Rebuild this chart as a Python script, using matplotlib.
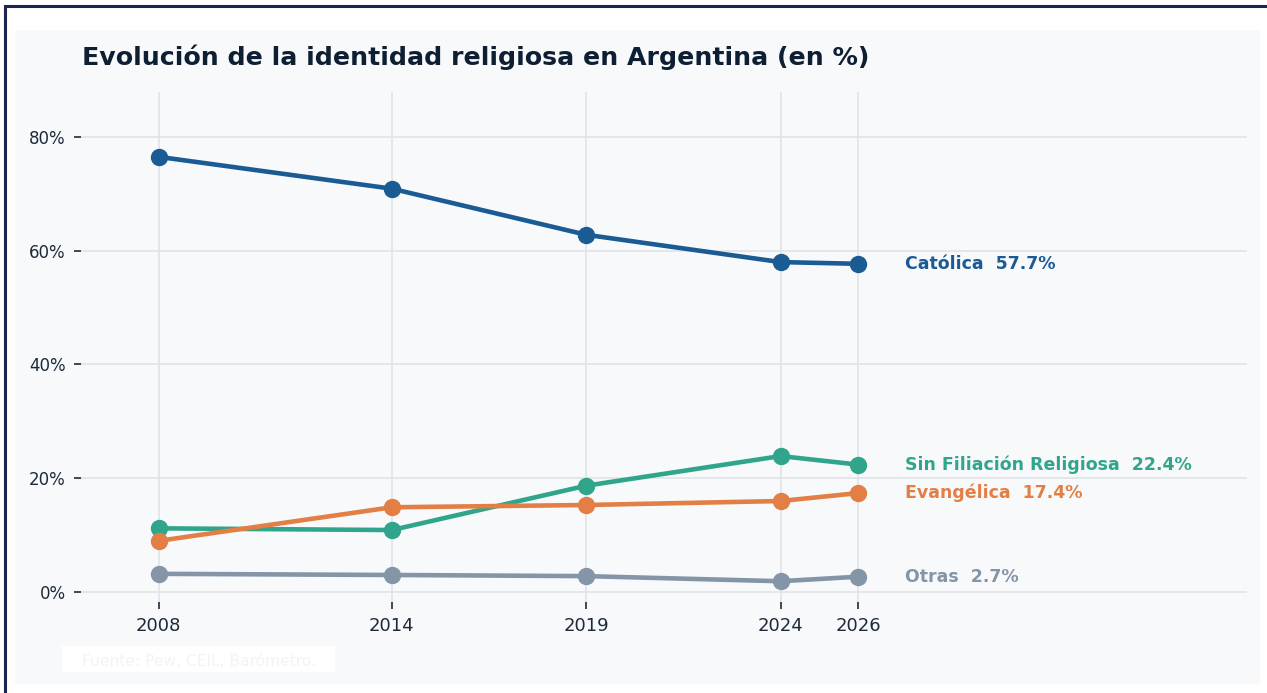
import matplotlib.pyplot as plt
from matplotlib.patches import Rectangle

# datos
years = [2008, 2014, 2019, 2024, 2026]
catolica = [76.5, 70.9, 62.8, 58.0, 57.7]
sin_filiacion = [11.2, 10.9, 18.7, 23.9, 22.4]
evangelica = [9.0, 14.9, 15.3, 16.0, 17.4]
otras = [3.2, 3.0, 2.8, 1.9, 2.7]

series = [
    ("Católica", catolica, "#1b5b94"),
    ("Sin Filiación Religiosa", sin_filiacion, "#31a58c"),
    ("Evangélica", evangelica, "#e37f44"),
    ("Otras", otras, "#8495a8"),
]

PANEL = "#f7f9fb"
GRID = "#dfe4e9"
TXT = "#1e2a3a"
W, H = 1267, 693

fig = plt.figure(figsize=(12.67, 6.93), dpi=100, facecolor="white")

# marco y panel de fondo
fig.patches.append(Rectangle((15 / W, 9 / H), 1245 / W, 654 / H,
                             transform=fig.transFigure, facecolor=PANEL,
                             edgecolor="none", zorder=0))
fig.patches.append(Rectangle((5 / W, -0.05), 1.2, 1 - 6 / H + 0.05,
                             transform=fig.transFigure, facecolor="none",
                             edgecolor="#1d2452", linewidth=2.2, zorder=1))
# caja de la fuente
fig.patches.append(Rectangle((62 / W, 1 - 672 / H), 273 / W, 26 / H,
                             transform=fig.transFigure, facecolor="white",
                             edgecolor="none", zorder=1))

ax = fig.add_axes([81 / W, 1 - 602 / H, 1166 / W, 510 / H])
ax.set_zorder(2)
ax.patch.set_alpha(0)

for name, vals, col in series:
    ax.plot(years, vals, color=col, linewidth=3.3, marker="o",
            markersize=11.5, zorder=3)
    ax.text(years[-1] + 1.2, vals[-1], f"{name}  {vals[-1]:.1f}%",
            color=col, fontsize=12.5, fontweight="bold", va="center",
            ha="left")

ax.set_xlim(2006, 2036)
ax.set_ylim(-1.75, 87.9)
ax.set_xticks(years)
ax.set_yticks([0, 20, 40, 60, 80])
ax.set_yticklabels(["0%", "20%", "40%", "60%", "80%"])
ax.grid(True, color=GRID, linewidth=1.2)
ax.set_axisbelow(True)
for s in ax.spines.values():
    s.set_visible(False)
ax.tick_params(axis="x", labelsize=13, colors=TXT, length=5, width=1.2,
               pad=6)
ax.tick_params(axis="y", labelsize=12, colors=TXT, length=5, width=1.2,
               pad=6)

fig.text(82 / W, 1 - 57 / H, "Evolución de la identidad religiosa en Argentina (en %)",
         fontsize=18.2, fontweight="bold", color="#0f1f33", va="center", ha="left")

fig.text(82 / W, 1 - 661 / H, "Fuente: Pew, CEIL, Barómetro.",
         fontsize=11.2, color="#f1f3f5", va="center", ha="left", zorder=2)

fig.savefig("out.png", dpi=100, facecolor="white")
